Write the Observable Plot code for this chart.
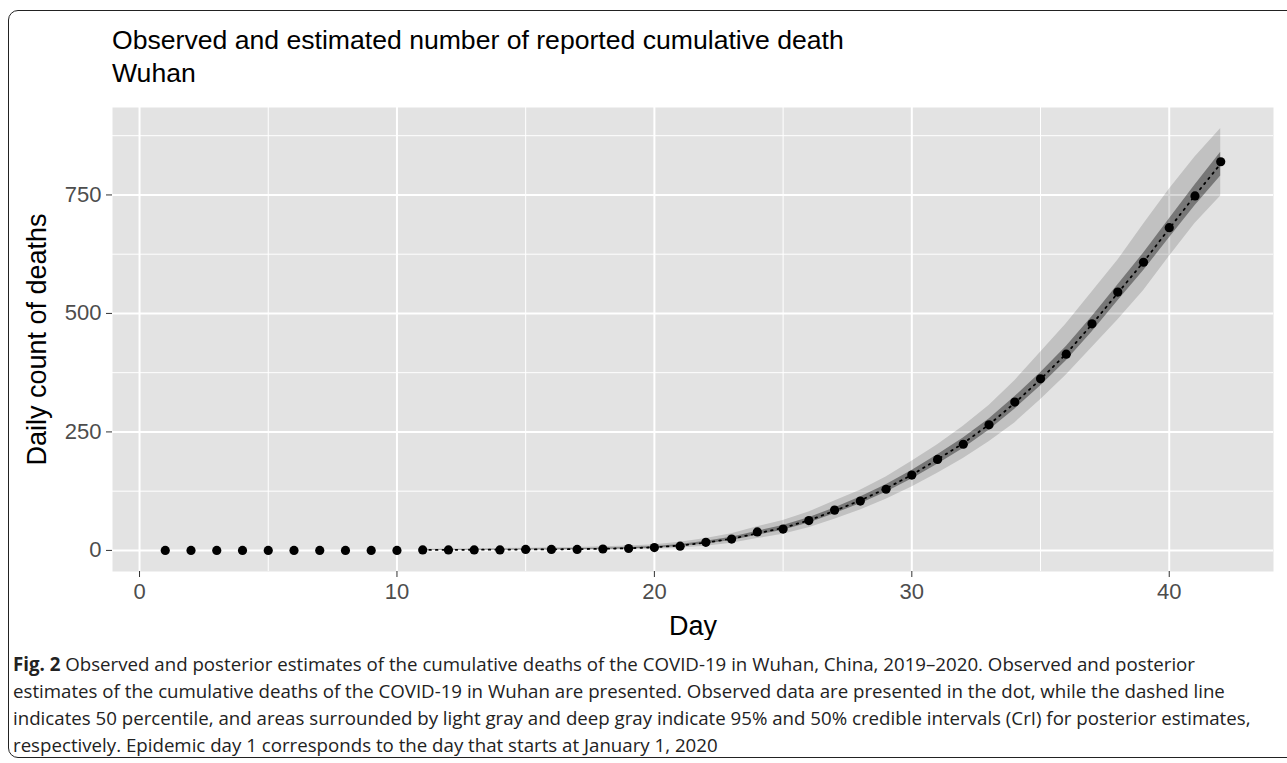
<!DOCTYPE html>
<html>
<head>
<meta charset="utf-8">
<script src="https://cdn.jsdelivr.net/npm/d3@7"></script>
<script src="https://cdn.jsdelivr.net/npm/@observablehq/plot@0.6"></script>
<style>
  html, body { margin: 0; padding: 0; background: #fff; }
  #page { position: relative; width: 1287px; height: 763px; overflow: hidden; }
  #frame { position: absolute; left: 8px; top: 10px; width: 1300px; height: 748px;
           border: 1.5px solid #222; border-radius: 10px; box-sizing: border-box; }
  #title { position: absolute; left: 112px; top: 24px; font-family: "Liberation Sans", Arial, sans-serif;
           font-size: 26.6px; line-height: 33px; color: #000; white-space: nowrap; }
  #chart { position: absolute; left: 0; top: 0; }
  #caption { position: absolute; left: 13px; top: 651px; font-family: "Open Sans", sans-serif;
             font-size: 19px; line-height: 27px; color: #222; white-space: nowrap;
             transform-origin: 0 0; }
  #caption div { white-space: nowrap; }
  [aria-label="x-axis label"], [aria-label="y-axis label"] { font-size: 27px; fill: #000; }
</style>
</head>
<body>
<div id="page">
  <div id="frame"></div>
  <div id="chart"></div>
  <div id="title">Observed and estimated number of reported cumulative death<br>Wuhan</div>
  <div id="caption">
    <div><span id="cap1"><b>Fig. 2</b> Observed and posterior estimates of the cumulative deaths of the COVID-19 in Wuhan, China, 2019–2020. Observed and posterior</span></div>
    <div>estimates of the cumulative deaths of the COVID-19 in Wuhan are presented. Observed data are presented in the dot, while the dashed line</div>
    <div>indicates 50 percentile, and areas surrounded by light gray and deep gray indicate 95% and 50% credible intervals (CrI) for posterior estimates,</div>
    <div>respectively. Epidemic day 1 corresponds to the day that starts at January 1, 2020</div>
  </div>
</div>
<script>
// Observed cumulative deaths (dots)
const days = [1,2,3,4,5,6,7,8,9,10,11,12,13,14,15,16,17,18,19,20,21,22,23,24,25,26,27,28,29,30,31,32,33,34,35,36,37,38,39,40,41,42];
const observed = [0,0,0,0,0,0,0,0,0,0,1,1,1,1,2,2,2,3,4,6,9,17,24,39,45,63,85,104,129,159,192,224,265,313,362,414,478,545,608,681,748,820];

// Posterior estimates
const estDays = [11,12,13,14,15,16,17,18,19,20,21,22,23,24,25,26,27,28,29,30,31,32,33,34,35,36,37,38,39,40,41,42];
const median = [1.0,1.2,1.4,1.6,1.9,2.2,2.7,3.4,4.6,6.6,10.2,16.5,24.5,36,47.5,63.5,83.5,105.5,130.5,159.5,192,226,265.5,311,361,415,477,543,608.5,679,749,816];
const lo50 = [0.6,0.7,0.8,1.0,1.2,1.5,1.9,2.4,3.4,5.1,8.2,13.6,21,32,42.5,58,77.5,98.5,122.5,150.5,182,215,253.5,298,347,400,461,526,590,659,727,790];
const hi50 = [1.5,1.8,2.1,2.4,2.8,3.2,3.8,4.6,6.1,8.4,12.6,19.5,28,40.5,52.5,69,89.5,112.5,138.5,168.5,202,237,277.5,324,375,430,493,560,627,699,771,840];
const lo95 = [0.1,0.2,0.3,0.4,0.5,0.6,0.8,1.1,1.7,2.8,5.0,9,15,25,34,48,66,85,108,134,163,194,229,269,318,370,428,486,548,620,690,748];
const hi95 = [2.6,3.1,3.6,4.2,4.8,5.5,6.4,7.6,9.4,12.2,17,25,35,50,63,81,104,127,155,188,223,262,306,358,418,478,545,612,688,762,830,890];

// Axis ticks
const xTicks = [0,10,20,30,40];
const xMinor = [5,15,25,35];
const yTicks = [0,250,500,750];
const yMinor = [125,375,625,875];

const obs = days.map((d,i) => ({day: d, value: observed[i]}));
const est = estDays.map((d,i) => ({day: d, med: median[i], lo50: lo50[i], hi50: hi50[i], lo95: lo95[i], hi95: hi95[i]}));

const chart = Plot.plot({
  width: 1287,
  height: 640,
  marginLeft: 112,
  marginRight: 14,
  marginTop: 107,
  marginBottom: 69,
  style: {fontFamily: "'Liberation Sans', Arial, sans-serif", fontSize: "22px", background: "transparent", color: "#4d4d4d"},
  x: {domain: [-1.05, 44.05]},
  y: {domain: [-44.5, 934.5]},
  marks: [
    Plot.frame({fill: "#e3e3e3", stroke: null}),
    Plot.ruleX(xMinor, {stroke: "#fff", strokeWidth: 1}),
    Plot.ruleY(yMinor, {stroke: "#fff", strokeWidth: 1}),
    Plot.ruleX(xTicks, {stroke: "#fff", strokeWidth: 2}),
    Plot.ruleY(yTicks, {stroke: "#fff", strokeWidth: 2}),
    Plot.areaY(est, {x: "day", y1: "lo95", y2: "hi95", fill: "#000", fillOpacity: 0.15}),
    Plot.areaY(est, {x: "day", y1: "lo50", y2: "hi50", fill: "#000", fillOpacity: 0.38}),
    Plot.line(est, {x: "day", y: "med", stroke: "#000", strokeWidth: 1.8, strokeDasharray: "1.6,5"}),
    Plot.dot(obs, {x: "day", y: "value", r: 4.6, fill: "#000", stroke: null}),
    Plot.axisX({ticks: xTicks, tickSize: 6, tickPadding: 6, stroke: "#333", label: "Day", labelAnchor: "center", labelArrow: "none", labelOffset: 63}),
    Plot.axisY({ticks: yTicks, tickSize: 6, tickPadding: 5, stroke: "#333", label: "Daily count of deaths", labelAnchor: "center", labelArrow: "none", labelOffset: 86})
  ]
});
document.getElementById("chart").appendChild(chart);

// fit caption lines to the reference's text width
const cap = document.getElementById("caption");
const natural = document.getElementById("cap1").getBoundingClientRect().width;
const targetWidth = 1182;
cap.style.transform = `scaleX(${targetWidth / natural})`;
</script>
</body>
</html>
